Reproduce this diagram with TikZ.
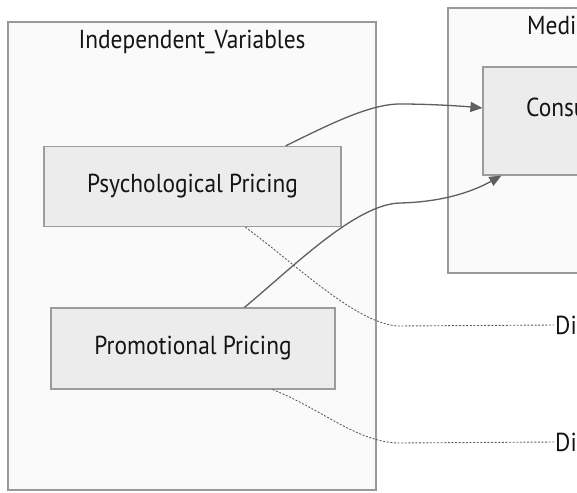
\documentclass[tikz,border=0pt]{standalone}
\usepackage{fontspec}
\setmainfont{PT Sans}[FakeStretch=0.9]
\usetikzlibrary{arrows.meta}
\definecolor{nodefill}{HTML}{ECECEC}
\definecolor{nodeline}{HTML}{9C9C9C}
\definecolor{clfill}{HTML}{FAFAFA}
\definecolor{clline}{HTML}{9A9A9A}
\definecolor{edge}{HTML}{5F5F5F}
\definecolor{txt}{HTML}{141414}
\tikzset{
  cluster/.style={draw=clline, fill=clfill, line width=1.2pt, inner sep=0pt},
  varbox/.style={draw=nodeline, fill=nodefill, line width=1.2pt, inner sep=0pt, font=\fontsize{26}{30}\selectfont, text=txt},
  lbl/.style={font=\fontsize{26}{30}\selectfont, text=txt, inner sep=0pt},
  flow/.style={draw=edge, line width=1.3pt, -{Triangle[length=12pt,width=10pt]}},
  link/.style={draw=edge, line width=0.9pt, dash pattern=on 2pt off 1.6pt}
}
\begin{document}
\begin{tikzpicture}[x=1pt,y=-1pt]
\useasboundingbox (0,0) rectangle (577,492);
\clip (0,0) rectangle (577,492);
\fill[white] (0,0) rectangle (577,492);
% clusters
\node[cluster, minimum width=368pt, minimum height=468pt] (indep) at (192,256) {};
\node[lbl, anchor=center] (indept) at (192,42) {Independent\_Variables};
\node[cluster, minimum width=260pt, minimum height=265pt] (med) at (578,140.5) {};
\node[lbl, anchor=base west] (medt) at (527,35) {Media};
% nodes
\node[varbox, minimum width=297pt, minimum height=80pt] (psych) at (192.5,186.5) {Psychological Pricing};
\node[varbox, minimum width=284pt, minimum height=81pt] (promo) at (193,348.5) {Promotional Pricing};
\node[varbox, minimum width=200pt, minimum height=108pt] (cons) at (583,121) {};
\node[lbl, anchor=west] (const) at (526,107) {Consu};
\node[lbl, anchor=west] (d1) at (555,325) {Di};
\node[lbl, anchor=west] (d2) at (555,442) {Di};
% connectors
\draw[flow] ([xshift=-56pt]psych.north east) .. controls (330,124) and (370,104) .. (400,104) .. controls (430,104) and (460,106) .. (cons.west |- 0,108);
\draw[flow] ([xshift=194pt]promo.north west) .. controls (290,270) and (355,204) .. (400,203) .. controls (440,202) and (470,193) .. ([xshift=19pt]cons.south west);
\draw[link] ([xshift=202pt]psych.south west) .. controls (300,268) and (355,322) .. (397,326) -- ([xshift=-1pt]d1.west);
\draw[link] ([xshift=-63pt]promo.south east) .. controls (320,408) and (355,441) .. (397,443) -- ([xshift=-1pt]d2.west);
\end{tikzpicture}
\end{document}
